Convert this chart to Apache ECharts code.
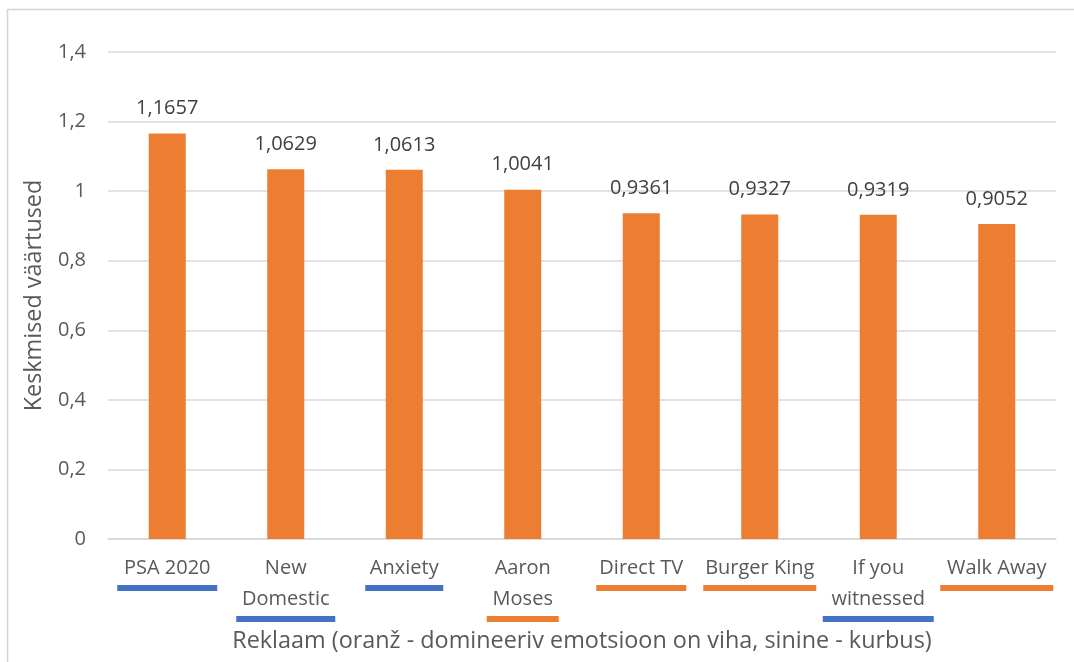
<!DOCTYPE html>
<html>
<head>
<meta charset="utf-8">
<script src="https://cdn.jsdelivr.net/npm/echarts@6/dist/echarts.min.js"></script>
<style>
  html, body { margin: 0; padding: 0; background: #fff; }
  #chart { width: 1074px; height: 662px; }
</style>
</head>
<body>
<div id="chart"></div>
<script>
// Ad names (label lines), mean values, and dominant emotion per ad
const categories = [
  ['PSA 2020'],
  ['New', 'Domestic'],
  ['Anxiety'],
  ['Aaron', 'Moses'],
  ['Direct TV'],
  ['Burger King'],
  ['If you', 'witnessed'],
  ['Walk Away']
];
const values = [1.1657, 1.0629, 1.0613, 1.0041, 0.9361, 0.9327, 0.9319, 0.9052];
// 'viha' = anger (orange), 'kurbus' = sadness (blue)
const emotions = ['kurbus', 'kurbus', 'kurbus', 'viha', 'viha', 'viha', 'kurbus', 'viha'];
const yTicks = { min: 0, max: 1.4, interval: 0.2 };

// Styling
const underlineWidths = [100, 99, 78, 72, 90, 113, 111, 113];
const emotionColors = { viha: '#ED7D31', kurbus: '#4472C4' };
const barColor = '#ED7D31';
const font = 'Open Sans';
const textColor = '#595959';

const fmtNum = (v, digits) => {
  const s = digits == null ? String(Number(v.toFixed(4))) : v.toFixed(digits);
  return s.replace('.', ',');
};

const rich = { t: { fontFamily: font, fontSize: 20, color: textColor, lineHeight: 31 } };
categories.forEach((c, i) => {
  rich['u' + i] = {
    width: underlineWidths[i],
    height: 6,
    lineHeight: 8,
    backgroundColor: emotionColors[emotions[i]]
  };
});

const chart = echarts.init(document.getElementById('chart'));
chart.setOption({
  animation: false,
  backgroundColor: '#fff',
  graphic: [{
    type: 'rect',
    silent: true,
    shape: { x: 7.5, y: 9.5, width: 1200, height: 800 },
    style: { fill: 'none', stroke: '#d4d4d4', lineWidth: 1.5 }
  }],
  grid: { left: 108, right: 18, top: 52, bottom: 123 },
  xAxis: {
    type: 'category',
    data: categories.map((c, i) => String(i)),
    name: 'Reklaam (oranž - domineeriv emotsioon on viha, sinine - kurbus)',
    nameLocation: 'middle',
    nameGap: 91,
    nameTextStyle: { fontFamily: font, fontSize: 23.4, color: textColor },
    axisLine: { lineStyle: { color: '#d9d9d9', width: 1.5 } },
    axisTick: { show: false },
    axisLabel: {
      interval: 0,
      margin: 14,
      verticalAlign: 'top',
      formatter: (v) => {
        const i = Number(v);
        return categories[i].map(s => '{t|' + s + '}').join('\n') + '\n{u' + i + '|}';
      },
      rich: rich
    }
  },
  yAxis: {
    type: 'value',
    min: yTicks.min,
    max: yTicks.max,
    interval: yTicks.interval,
    name: 'Keskmised väärtused',
    nameLocation: 'middle',
    nameGap: 62,
    nameTextStyle: { fontFamily: font, fontSize: 23.4, color: textColor },
    axisLine: { show: false },
    axisTick: { show: false },
    splitLine: { lineStyle: { color: '#d9d9d9', width: 1.5 } },
    axisLabel: {
      margin: 22,
      fontFamily: font,
      fontSize: 20,
      color: textColor,
      formatter: (v) => fmtNum(Number(v.toFixed(1)))
    }
  },
  series: [{
    type: 'bar',
    data: values,
    barWidth: 37,
    itemStyle: { color: barColor },
    label: {
      show: true,
      position: 'top',
      distance: 15,
      fontFamily: font,
      fontSize: 20,
      color: '#404040',
      formatter: (p) => fmtNum(p.value, 4)
    }
  }]
});
</script>
</body>
</html>
